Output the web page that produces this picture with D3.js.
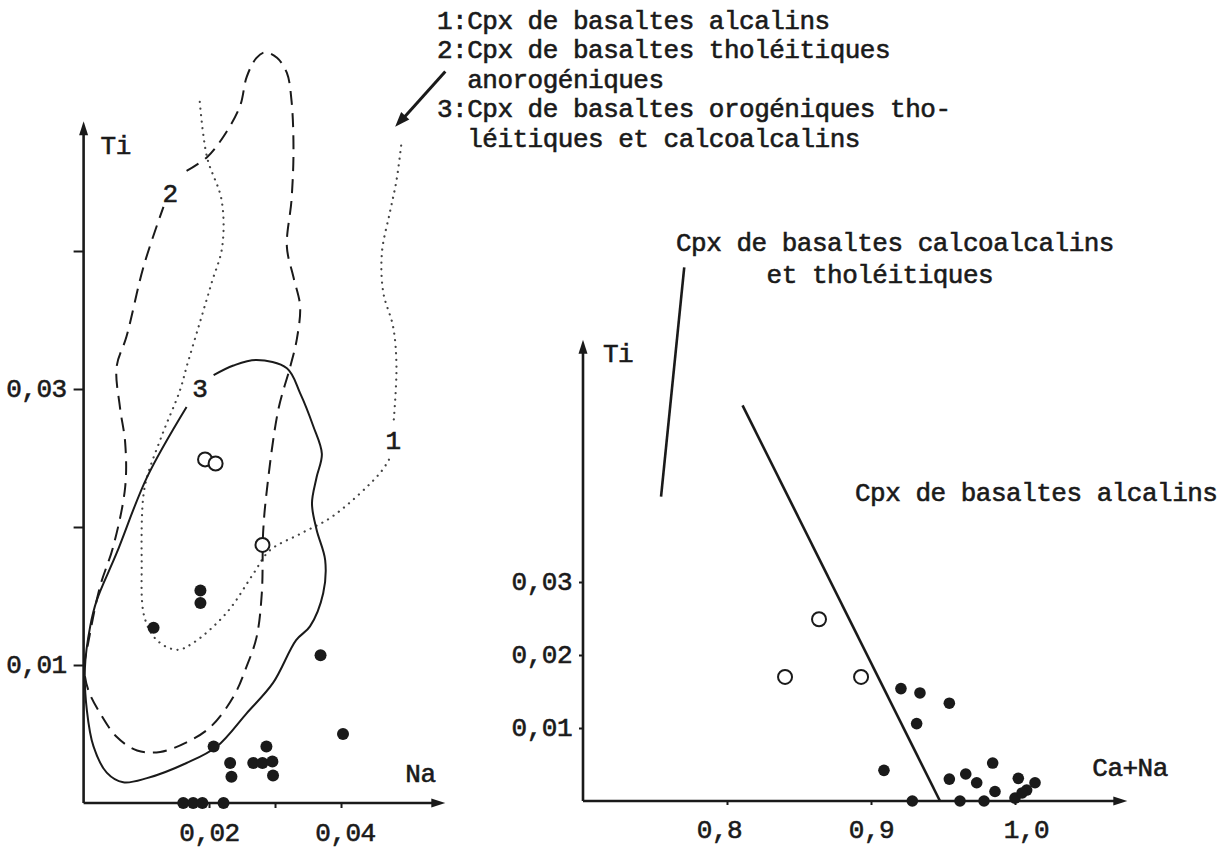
<!DOCTYPE html>
<html><head><meta charset="utf-8">
<script src="https://cdn.jsdelivr.net/npm/d3@7"></script>
<style>
html,body{margin:0;padding:0;background:#fff;}
svg text{font-family:"Liberation Mono","DejaVu Sans Mono",monospace;font-size:26px;letter-spacing:-0.5px;fill:#1a1a1a;stroke:#1a1a1a;stroke-width:0.6px;}
</style></head><body>
<svg id="c" width="1228" height="850"></svg>
<script>
// ---------------- DATA ----------------
// Left diagram: Ti vs Na
const leftYTicks = [0.01, 0.02, 0.03, 0.04];
const leftYLabels = ['0,01', '', '0,03', ''];
const leftXTicks = [0.02, 0.03, 0.04];
const leftXLabels = ['0,02', '', '0,04'];
const leftFilled = [[0.0187,0.0154],[0.0187,0.0145],[0.0116,0.0127],[0.0369,0.0107],[0.0403,0.0050],
  [0.0207,0.0041],[0.0232,0.0029],[0.0234,0.0019],[0.0267,0.0029],[0.0281,0.0029],[0.0296,0.0030],
  [0.0287,0.0041],[0.0297,0.0020],[0.0161,0],[0.0176,0],[0.0190,0],[0.0222,0]];
const leftOpen = [[0.0194,0.0249],[0.0210,0.0246],[0.0281,0.0187]];
// field 1 (dotted), split around its label
const field1a = [[0.0186,0.0508],[0.0197,0.0468],[0.0219,0.0437],[0.0220,0.0403],[0.0204,0.0377],[0.0186,0.0348],
  [0.0166,0.0316],[0.0156,0.0299],[0.0130,0.0268],[0.0106,0.0236],[0.0100,0.0220],[0.0098,0.0176],[0.0102,0.0135],
  [0.0121,0.0118],[0.0151,0.0111],[0.0176,0.0116],[0.0227,0.0138],[0.0267,0.0166],[0.0292,0.0183],[0.0338,0.0195],
  [0.0388,0.0208],[0.0459,0.0239],[0.0474,0.0250]];
const field1b = [[0.0480,0.0278],[0.0484,0.0316],[0.0479,0.0345],[0.0464,0.0370],[0.0462,0.0399],[0.0474,0.0428],
  [0.0484,0.0451],[0.0492,0.0480]];
// field 2 (dashed)
const field2 = [[0.0166,0.0458],[0.0197,0.0468],[0.0222,0.0483],[0.0247,0.0505],[0.0257,0.0526],[0.0272,0.0540],
  [0.0285,0.0544],[0.0303,0.0540],[0.0318,0.0529],[0.0325,0.0509],[0.0328,0.0473],[0.0325,0.0437],[0.0318,0.0403],
  [0.0328,0.0381],[0.0338,0.0360],[0.0333,0.0336],[0.0323,0.0316],[0.0305,0.0285],[0.0287,0.0224],[0.0282,0.0196],
  [0.0280,0.0152],[0.0272,0.0120],[0.0257,0.0099],[0.0237,0.0077],[0.0202,0.0055],[0.0166,0.0044],[0.0126,0.0037],
  [0.0091,0.0038],[0.0060,0.0048],[0.0035,0.0065],[0.0017,0.0082],[0.0011,0.0098],[0.0017,0.0116],[0.0035,0.0157],
  [0.0055,0.0186],[0.0073,0.0229],[0.0073,0.0261],[0.0065,0.0287],[0.0060,0.0316],[0.0075,0.0338],[0.0101,0.0389],
  [0.0131,0.0432]];
// field 3 (solid)
const field3 = [[0.0207,0.0310],[0.0237,0.0317],[0.0272,0.0321],[0.0318,0.0315],[0.0338,0.0297],[0.0358,0.0273],
  [0.0371,0.0253],[0.0363,0.0236],[0.0356,0.0217],[0.0363,0.0198],[0.0376,0.0176],[0.0373,0.0152],[0.0353,0.0128],
  [0.0332,0.0118],[0.0297,0.0087],[0.0257,0.0065],[0.0212,0.0041],[0.0166,0.0029],[0.0106,0.0018],[0.0070,0.0015],
  [0.0045,0.0022],[0.0025,0.0041],[0.0015,0.0067],[0.0012,0.0098],[0.0020,0.0128],[0.0030,0.0147],[0.0060,0.0181],
  [0.0106,0.0236],[0.0166,0.0287]];
const fieldLabels = [{t:'1', x:0.0479, y:0.0263},{t:'2', x:0.0141, y:0.0442},{t:'3', x:0.0186, y:0.0301}];
const legendArrow = [[0.0558,0.0530],[0.0482,0.0490]];
const legendLines = ['1:Cpx de basaltes alcalins','2:Cpx de basaltes tholéitiques','  anorogéniques',
  '3:Cpx de basaltes orogéniques tho-','  léitiques et calcoalcalins'];

// Right diagram: Ti vs Ca+Na
const rightYTicks = [0.01, 0.02, 0.03];
const rightYLabels = ['0,01','0,02','0,03'];
const rightXTicks = [0.8, 0.9, 1.0];
const rightXLabels = ['0,8','0,9','1,0'];
const rightOpen = [[0.8639,0.0249],[0.8403,0.0170],[0.8931,0.0170]];
const rightFilled = [[0.9208,0.0154],[0.9340,0.0148],[0.9544,0.0134],[0.9317,0.0106],[0.9090,0.0042],[0.9287,0],
  [0.9544,0.0030],[0.9658,0.0037],[0.9734,0.0025],[0.9845,0.0052],[0.9618,0],[0.9785,0],[0.9861,0.0013],
  [1.0023,0.0031],[1.0000,0.0004],[1.0081,0.0015],[1.0139,0.0025],[1.0049,0.0011]];
const rightBoundary = [[0.8108,0.0542],[0.9479,0]];
const rightPointer = [[0.7703,0.0731],[0.7542,0.0417]];
const rightTexts = ['Cpx de basaltes calcoalcalins','      et tholéitiques','Cpx de basaltes alcalins'];

// ---------------- DRAW ----------------
const ink = '#1a1a1a';
const svg = d3.select('#c');

function arrowHead(g, x, y, angle, len, w) {
  const a = angle * Math.PI / 180;
  const bx = x - len * Math.cos(a), by = y - len * Math.sin(a);
  const px = -Math.sin(a) * w / 2, py = Math.cos(a) * w / 2;
  g.append('polygon').attr('points', `${x},${y} ${bx+px},${by+py} ${bx-px},${by-py}`).attr('fill', ink);
}
function styleAxis(g) {
  g.select('.domain').remove();
  g.selectAll('.tick line').attr('stroke', ink).attr('stroke-width', 2);
  g.selectAll('.tick text').attr('fill', ink).style('font-size', '26px');
}

// ---- Left ----
const xL = d3.scaleLinear().domain([0, 0.0558]).range([77, 445.3]);
const yL = d3.scaleLinear().domain([0, 0.04]).range([803, 251]);
const xL0 = 0.001, yLTop = 0.0494, xLEnd = 0.0558;
const gl = svg.append('g');
gl.append('line').attr('x1', xL(xL0)).attr('x2', xL(xL0)).attr('y1', yL(0)).attr('y2', yL(yLTop) + 8)
  .attr('stroke', ink).attr('stroke-width', 2.6);
arrowHead(gl, xL(xL0), yL(yLTop), -90, 14, 9);
gl.append('line').attr('x1', xL(xL0)).attr('x2', xL(xLEnd) - 8).attr('y1', yL(0)).attr('y2', yL(0))
  .attr('stroke', ink).attr('stroke-width', 2.6);
arrowHead(gl, xL(xLEnd), yL(0), 0, 14, 9);

const axLY = gl.append('g').attr('transform', `translate(${xL(xL0)},0)`)
  .call(d3.axisLeft(yL).tickValues(leftYTicks).tickSize(10).tickPadding(7).tickFormat((d,i) => leftYLabels[i]));
styleAxis(axLY);
axLY.selectAll('.tick text').attr('dy', '0.3em');
const axLX = gl.append('g').attr('transform', `translate(0,${yL(0)})`)
  .call(d3.axisBottom(xL).tickValues(leftXTicks).tickSize(5).tickFormat((d,i) => leftXLabels[i]));
styleAxis(axLX);
axLX.selectAll('.tick text').attr('y', 30).attr('dy', '0.3em').attr('dx', (d,i) => [0, 0, 4][i]);

gl.append('text').attr('x', xL(xL0) + 17).attr('y', yL(yLTop) + 25).attr('dy','0.3em').text('Ti');
gl.append('text').attr('x', xL(xLEnd) - 40).attr('y', yL(0) - 29).attr('dy','0.3em').text('Na');

const lineL = d3.line().x(d => xL(d[0])).y(d => yL(d[1])).curve(d3.curveCatmullRom.alpha(0.5));
[field1a, field1b].forEach(f => gl.append('path').attr('d', lineL(f)).attr('fill', 'none')
  .attr('stroke', '#444').attr('stroke-width', 2.2).attr('stroke-linecap', 'round').attr('stroke-dasharray', '0.1,6.5'));
gl.append('path').attr('d', lineL(field2)).attr('fill', 'none').attr('stroke', ink).attr('stroke-width', 2)
  .attr('stroke-dasharray', '14,8');
gl.append('path').attr('d', lineL(field3)).attr('fill', 'none').attr('stroke', ink).attr('stroke-width', 2);

gl.selectAll('text.fl').data(fieldLabels).join('text').attr('class', 'fl')
  .attr('x', d => xL(d.x)).attr('y', d => yL(d.y)).attr('dy', '0.35em').attr('text-anchor', 'middle').text(d => d.t);

gl.selectAll('circle.fo').data(leftOpen).join('circle').attr('class', 'fo')
  .attr('cx', d => xL(d[0])).attr('cy', d => yL(d[1])).attr('r', 7).attr('fill', '#fff').attr('stroke', ink).attr('stroke-width', 2);
gl.selectAll('circle.ff').data(leftFilled).join('circle').attr('class', 'ff')
  .attr('cx', d => xL(d[0])).attr('cy', d => yL(d[1])).attr('r', 6).attr('fill', ink);

// legend arrow + text
gl.append('line').attr('x1', xL(legendArrow[0][0])).attr('y1', yL(legendArrow[0][1]))
  .attr('x2', xL(legendArrow[1][0]) + 6).attr('y2', yL(legendArrow[1][1]) - 6).attr('stroke', ink).attr('stroke-width', 3);
{
  const ang = Math.atan2(yL(legendArrow[1][1]) - yL(legendArrow[0][1]), xL(legendArrow[1][0]) - xL(legendArrow[0][0])) * 180 / Math.PI;
  arrowHead(gl, xL(legendArrow[1][0]), yL(legendArrow[1][1]), ang, 15, 11);
}
const legG = svg.append('g').attr('transform', 'translate(437,21)');
legG.selectAll('text').data(legendLines).join('text').attr('x', 0).attr('y', (d,i) => i * 29.5)
  .attr('dy', '0.3em').attr('xml:space', 'preserve').style('white-space', 'pre').text(d => d);

// ---- Right ----
const xR = d3.scaleLinear().domain([0.7, 1.0]).range([583, 1015]);
const yR = d3.scaleLinear().domain([0, 0.03]).range([801, 582]);
const yRTop = 0.0632, xREnd = 1.078;
const gr = svg.append('g');
gr.append('line').attr('x1', xR(0.7)).attr('x2', xR(0.7)).attr('y1', yR(0)).attr('y2', yR(yRTop) + 8)
  .attr('stroke', ink).attr('stroke-width', 2.6);
arrowHead(gr, xR(0.7), yR(yRTop), -90, 14, 9);
gr.append('line').attr('x1', xR(0.7)).attr('x2', xR(xREnd) - 8).attr('y1', yR(0)).attr('y2', yR(0))
  .attr('stroke', ink).attr('stroke-width', 2.6);
arrowHead(gr, xR(xREnd), yR(0), 0, 14, 9);

const axRY = gr.append('g').attr('transform', `translate(${xR(0.7)},0)`)
  .call(d3.axisLeft(yR).tickValues(rightYTicks).tickSize(4).tickPadding(7).tickFormat((d,i) => rightYLabels[i]));
styleAxis(axRY);
axRY.selectAll('.tick text').attr('dy', '0.3em');
const axRX = gr.append('g').attr('transform', `translate(0,${yR(0)})`)
  .call(d3.axisBottom(xR).tickValues(rightXTicks).tickSize(4).tickFormat((d,i) => rightXLabels[i]));
styleAxis(axRX);
axRX.selectAll('.tick text').attr('y', 29).attr('dy', '0.3em').attr('dx', (d,i) => [-8, 0, 11][i]);

gr.append('text').attr('x', xR(0.7) + 20).attr('y', yR(yRTop) + 15).attr('dy','0.3em').text('Ti');
gr.append('text').attr('x', xR(xREnd) - 35).attr('y', yR(0) - 33).attr('dy','0.3em').text('Ca+Na');

const lineR = d3.line().x(d => xR(d[0])).y(d => yR(d[1]));
gr.append('path').attr('d', lineR(rightBoundary)).attr('stroke', ink).attr('stroke-width', 2.6).attr('fill', 'none');
gr.append('path').attr('d', lineR(rightPointer)).attr('stroke', ink).attr('stroke-width', 2.6).attr('fill', 'none');

gr.selectAll('circle.ro').data(rightOpen).join('circle').attr('class', 'ro')
  .attr('cx', d => xR(d[0])).attr('cy', d => yR(d[1])).attr('r', 7).attr('fill', '#fff').attr('stroke', ink).attr('stroke-width', 2);
gr.selectAll('circle.rf').data(rightFilled).join('circle').attr('class', 'rf')
  .attr('cx', d => xR(d[0])).attr('cy', d => yR(d[1])).attr('r', 5.8).attr('fill', ink);

const rtPos = [[676,243],[676,275],[855,493]];
gr.selectAll('text.rt').data(rightTexts).join('text').attr('class', 'rt')
  .attr('x', (d,i) => rtPos[i][0]).attr('y', (d,i) => rtPos[i][1]).attr('dy', '0.3em')
  .attr('xml:space', 'preserve').style('white-space', 'pre').text(d => d);
</script>
</body></html>
